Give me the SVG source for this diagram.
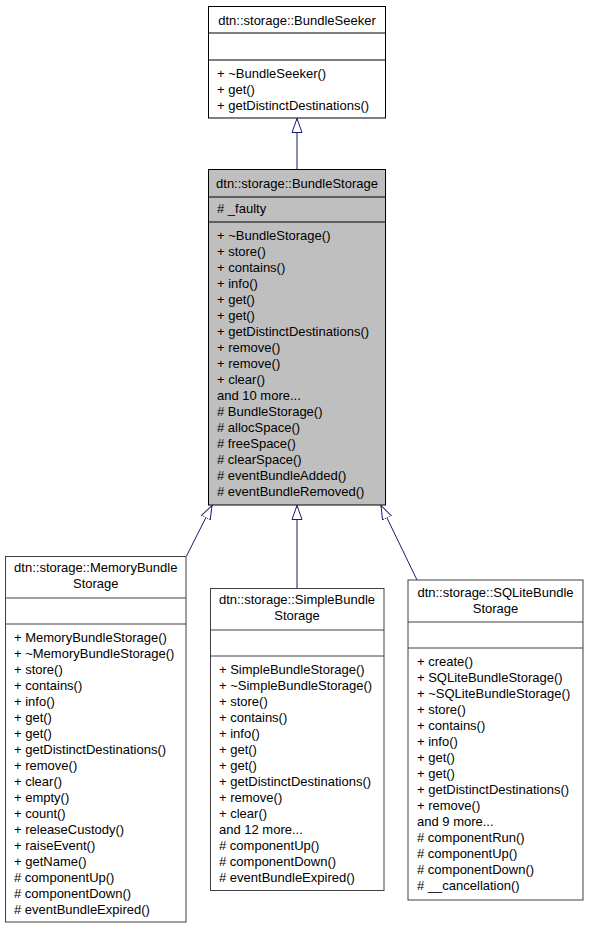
<svg xmlns="http://www.w3.org/2000/svg" width="589" height="931" viewBox="0 0 589 931">
<style>
text{font-family:"Liberation Sans",Arial,Helvetica,sans-serif;font-size:13px;fill:#000}
.c{text-anchor:middle}
.box{fill:#fff;stroke:#000;stroke-width:1}
.cur{fill:#bfbfbf;stroke:#000;stroke-width:1}
.sub{fill:#fff;stroke:#404040;stroke-width:1}
.div{stroke:#000;stroke-width:1}
.sdiv{stroke:#404040;stroke-width:1}
.edge{fill:none;stroke:#191970;stroke-width:1}
</style>
<defs>
<marker id="inh" markerUnits="userSpaceOnUse" markerWidth="16" markerHeight="12" viewBox="0 -6 16 12" refX="14" refY="0" orient="auto">
<path d="M0,-5 L14,0 L0,5 Z" fill="#fff" stroke="#191970" stroke-width="1"/>
</marker>
</defs>
<g id="connectors">
<path class="edge" d="M297,169 L297,118.5" marker-end="url(#inh)"/>
<path class="edge" d="M186.5,556 L212,505.5" marker-end="url(#inh)"/>
<path class="edge" d="M297,588 L297,505.5" marker-end="url(#inh)"/>
<path class="edge" d="M417,580 L381,505.5" marker-end="url(#inh)"/>
</g>
<g id="BundleSeeker">
<rect class="box" x="208.5" y="6.5" width="177" height="111.5"/>
<line class="div" x1="208.5" y1="33" x2="385.5" y2="33"/>
<line class="div" x1="208.5" y1="60" x2="385.5" y2="60"/>
<text class="c" x="297" y="24.5">dtn::storage::BundleSeeker</text>
<text x="217" y="78">+ ~BundleSeeker()</text>
<text x="217" y="94">+ get()</text>
<text x="217" y="110">+ getDistinctDestinations()</text>
</g>
<g id="BundleStorage">
<rect class="cur" x="208.5" y="169.5" width="177" height="335.5"/>
<line class="div" x1="208.5" y1="197" x2="385.5" y2="197"/>
<line class="div" x1="208.5" y1="222" x2="385.5" y2="222"/>
<text class="c" x="297" y="188">dtn::storage::BundleStorage</text>
<text x="217" y="213">#  _faulty</text>
<text x="217" y="240">+ ~BundleStorage()</text>
<text x="217" y="256">+ store()</text>
<text x="217" y="272">+ contains()</text>
<text x="217" y="288">+ info()</text>
<text x="217" y="304">+ get()</text>
<text x="217" y="320">+ get()</text>
<text x="217" y="336">+ getDistinctDestinations()</text>
<text x="217" y="352">+ remove()</text>
<text x="217" y="368">+ remove()</text>
<text x="217" y="384">+ clear()</text>
<text x="217" y="400">and 10 more...</text>
<text x="217" y="416"># BundleStorage()</text>
<text x="217" y="432"># allocSpace()</text>
<text x="217" y="448"># freeSpace()</text>
<text x="217" y="464"># clearSpace()</text>
<text x="217" y="480"># eventBundleAdded()</text>
<text x="217" y="496"># eventBundleRemoved()</text>
</g>
<g id="MemoryBundleStorage">
<rect class="sub" x="5.5" y="556.5" width="180.5" height="365.5"/>
<line class="sdiv" x1="5.5" y1="598" x2="186" y2="598"/>
<line class="sdiv" x1="5.5" y1="624" x2="186" y2="624"/>
<text class="c" x="95.75" y="572">dtn::storage::MemoryBundle</text>
<text class="c" x="95.75" y="588">Storage</text>
<text x="14" y="642">+ MemoryBundleStorage()</text>
<text x="14" y="658">+ ~MemoryBundleStorage()</text>
<text x="14" y="674">+ store()</text>
<text x="14" y="690">+ contains()</text>
<text x="14" y="706">+ info()</text>
<text x="14" y="722">+ get()</text>
<text x="14" y="738">+ get()</text>
<text x="14" y="754">+ getDistinctDestinations()</text>
<text x="14" y="770">+ remove()</text>
<text x="14" y="786">+ clear()</text>
<text x="14" y="802">+ empty()</text>
<text x="14" y="818">+ count()</text>
<text x="14" y="834">+ releaseCustody()</text>
<text x="14" y="850">+ raiseEvent()</text>
<text x="14" y="866">+ getName()</text>
<text x="14" y="882"># componentUp()</text>
<text x="14" y="898"># componentDown()</text>
<text x="14" y="914"># eventBundleExpired()</text>
</g>
<g id="SimpleBundleStorage">
<rect class="sub" x="210.5" y="588.5" width="173.5" height="302"/>
<line class="sdiv" x1="210.5" y1="630" x2="384" y2="630"/>
<line class="sdiv" x1="210.5" y1="656" x2="384" y2="656"/>
<text class="c" x="297" y="604">dtn::storage::SimpleBundle</text>
<text class="c" x="297" y="620">Storage</text>
<text x="219" y="674">+ SimpleBundleStorage()</text>
<text x="219" y="690">+ ~SimpleBundleStorage()</text>
<text x="219" y="706">+ store()</text>
<text x="219" y="722">+ contains()</text>
<text x="219" y="738">+ info()</text>
<text x="219" y="754">+ get()</text>
<text x="219" y="770">+ get()</text>
<text x="219" y="786">+ getDistinctDestinations()</text>
<text x="219" y="802">+ remove()</text>
<text x="219" y="818">+ clear()</text>
<text x="219" y="834">and 12 more...</text>
<text x="219" y="850"># componentUp()</text>
<text x="219" y="866"># componentDown()</text>
<text x="219" y="882"># eventBundleExpired()</text>
</g>
<g id="SQLiteBundleStorage">
<rect class="sub" x="408" y="580" width="175" height="320"/>
<line class="sdiv" x1="408" y1="622" x2="583" y2="622"/>
<line class="sdiv" x1="408" y1="648" x2="583" y2="648"/>
<text class="c" x="495.5" y="597">dtn::storage::SQLiteBundle</text>
<text class="c" x="495.5" y="613">Storage</text>
<text x="417" y="666">+ create()</text>
<text x="417" y="682">+ SQLiteBundleStorage()</text>
<text x="417" y="698">+ ~SQLiteBundleStorage()</text>
<text x="417" y="714">+ store()</text>
<text x="417" y="730">+ contains()</text>
<text x="417" y="746">+ info()</text>
<text x="417" y="762">+ get()</text>
<text x="417" y="778">+ get()</text>
<text x="417" y="794">+ getDistinctDestinations()</text>
<text x="417" y="810">+ remove()</text>
<text x="417" y="826">and 9 more...</text>
<text x="417" y="842"># componentRun()</text>
<text x="417" y="858"># componentUp()</text>
<text x="417" y="874"># componentDown()</text>
<text x="417" y="890">#  __cancellation()</text>
</g>
</svg>
